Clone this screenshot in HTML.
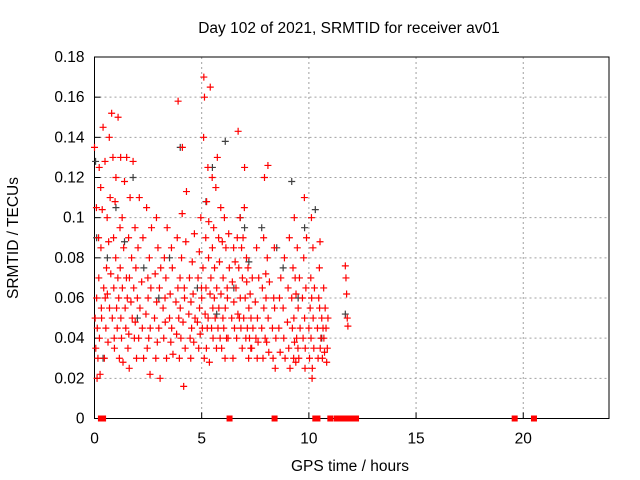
<!DOCTYPE html>
<html><head><meta charset="utf-8"><style>
body{margin:0;background:#fff;}
svg{display:block;font-family:"Liberation Sans",sans-serif;}
</style></head><body>
<svg id="chart" width="640" height="480" viewBox="0 0 640 480" xmlns="http://www.w3.org/2000/svg">
<g id="grid"></g>
<g id="axes"></g>
<g id="dark"></g>
<g id="red"></g>
<text x="349" y="33" font-size="15.5" text-anchor="middle">Day 102 of 2021, SRMTID for receiver av01</text>
<text x="350" y="471" font-size="15.5" text-anchor="middle">GPS time / hours</text>
<text transform="translate(18,238) rotate(-90)" font-size="15.5" text-anchor="middle">SRMTID / TECUs</text>
</svg>
<script>
const xTicks=[0,5,10,15,20];
const yTicks=[0,0.02,0.04,0.06,0.08,0.1,0.12,0.14,0.16,0.18];
const yTickLabels=["0","0.02","0.04","0.06","0.08","0.1","0.12","0.14","0.16","0.18"];
const redHours=[0.0,0.1,0.2,0.3,0.4,0.5,0.6,0.7,0.8,0.9,1.0,1.1,1.2,1.3,1.4,1.5,1.6,1.7,1.8,1.9,2.0,2.2,2.4,2.5,2.6,2.8,2.9,3.0,3.2,3.3,3.5,3.6,3.8,3.9,4.0,4.1,4.2,4.4,4.5,4.6,4.8,4.9,5.0,5.1,5.2,5.3,5.4,5.5,5.6,5.7,5.8,5.9,6.0,6.1,6.2,6.4,6.5,6.6,6.7,6.8,6.9,7.0,7.1,7.2,7.3,7.5,7.6,7.8,7.9,8.0,8.1,8.3,8.4,8.6,8.8,9.0,9.2,9.3,9.4,9.5,9.7,9.8,10.0,10.1,10.2,10.4,10.5,10.6,10.7,10.8,11.7];
const redValues=[[.135,.05,.035,.105,.02],[.06,.045,.03,.09,.125],[.07,.04,.022,.115,.055],[.085,.05,.104],[.145,.065,.03,.128],[.06,.045,.075,.1],[.062,.038,.088,.14],[.055,.11,.072],[.152,.05,.13,.09,.04],[.065,.035,.108,.08],[.12,.055,.045,.07],[.15,.06,.03,.095,.13],[.075,.05,.04,.1],[.065,.028,.085],[.118,.055,.045,.07],[.13,.06,.035,.09,.025],[.042,.07,.11],[.058,.08,.05],[.128,.065,.04,.095],[.048,.075,.03],[.06,.085,.04,.11,.055],[.068,.045,.09,.03],[.052,.105,.035,.07],[.06,.04,.08,.022],[.045,.065,.095],[.05,.072,.03,.1],[.058,.038,.085],[.045,.065,.02,.075],[.055,.04,.08,.06],[.048,.07,.03,.095],[.05,.062,.038,.085],[.045,.075,.032],[.058,.042,.09,.065],[.158,.05,.03,.07],[.055,.04,.08,.102],[.135,.048,.016,.065],[.06,.035,.088,.113],[.052,.07,.04,.03],[.058,.045,.078],[.062,.038,.092,.05],[.048,.07,.035,.083],[.055,.042,.1,.065],[.06,.045,.075,.14,.03],[.17,.16,.052,.09,.035],[.065,.108,.045,.125,.08],[.05,.098,.028,.062],[.165,.07,.045,.12,.055],[.085,.04,.095,.06],[.075,.05,.115,.035],[.065,.13,.045,.09],[.055,.078,.04,.105],[.062,.035,.088,.05],[.07,.045,.1,.03],[.055,.085,.04,.065],[.06,.04,.092,.075],[.05,.068,.03,.085],[.058,.045,.078],[.065,.04,.09,.052],[.143,.075,.05,.1],[.06,.045,.085,.035],[.07,.09,.05,.105],[.125,.06,.04,.08],[.068,.045,.075,.03],[.055,.04,.062,.035],[.05,.035,.07,.045],[.058,.04,.085,.03],[.05,.038,.07],[.045,.065,.03,.09],[.055,.12,.04,.072],[.06,.038,.08,.126],[.05,.033,.068],[.045,.03,.06,.085],[.055,.025,.04],[.045,.06,.033,.07],[.055,.04,.08,.03],[.048,.065,.035,.09,.025],[.06,.045,.075,.03,.1],[.05,.038,.07,.028],[.062,.04,.085,.035],[.055,.03,.07,.045],[.06,.04,.08,.11,.025],[.05,.035,.065,.09],[.045,.03,.055,.07,.1,.02],[.04,.06,.025,.085],[.05,.035,.065],[.045,.03,.06,.075,.088],[.055,.035,.04],[.05,.03,.045,.065],[.04,.033,.055],[.045,.028,.035,.05],[.076,.07,.062,.05,.046]];
const darkHours=[0.05,0.1,0.6,1.0,1.4,2.3,3.5,4.0,4.8,5.2,5.5,6.1,6.8,7.2,7.8,8.5,9.2,9.8,10.3,11.7,0.4,2.0,3.0,6.5,7.0,8.8,9.5,10.6,5.7,1.8];
const darkValues=[.128,.09,.08,.105,.088,.075,.08,.135,.065,.108,.125,.138,.1,.078,.095,.085,.118,.095,.104,.052,.03,.05,.06,.065,.095,.075,.06,.04,.052,.12];
const zeroHours=[0.3,0.4,6.3,8.4,10.3,10.4,11.0,11.3,11.4,11.5,11.6,11.7,11.8,11.9,12.0,12.2,19.6,20.5];

const NS="http://www.w3.org/2000/svg";
const L=94.5,R=609,T=57,B=418.5;
const xs=h=>L+h/24*(R-L);
const ys=v=>B-v/0.18*(B-T);
function mk(tag,attrs,parent){const e=document.createElementNS(NS,tag);for(const k in attrs)e.setAttribute(k,attrs[k]);parent.appendChild(e);return e;}
const grid=document.getElementById('grid'),axes=document.getElementById('axes');
xTicks.forEach((t,i)=>{
  const x=xs(t);
  if(t>0){const g=mk('line',{x1:x,x2:x,y1:T,y2:B,stroke:'#a0a0a0','stroke-dasharray':'2,3'},grid);
  
  }
  const tk=mk('line',{x1:x,x2:x,y1:B,y2:B-6,stroke:'#000'},axes);
  
  
  const lb=mk('text',{x:x,y:B+25,'font-size':15.5,'text-anchor':'middle'},axes);lb.textContent=t;
  
  
});
yTicks.forEach((t,i)=>{
  const y=ys(t);
  if(t>0&&i<yTicks.length-1){const g=mk('line',{x1:L,x2:R,y1:y,y2:y,stroke:'#a0a0a0','stroke-dasharray':'2,3'},grid);
  
  }
  const tk=mk('line',{x1:L,x2:L+6,y1:y,y2:y,stroke:'#000'},axes);
  
  
  const lb=mk('text',{x:L-10,y:y+5,'font-size':15.5,'text-anchor':'end'},axes);lb.textContent=yTickLabels[i];
  
  
});
const fr=mk('rect',{x:L,y:T,width:R-L,height:B-T,fill:'none',stroke:'#000','stroke-width':1},axes);


function plus(g,h,v,color){
  const x=xs(h),y=ys(v);
  const p=mk('path',{d:`M${x-3.5},${y}H${x+3.5}M${x},${y-3.5}V${y+3.5}`,stroke:color,'stroke-width':1.2,fill:'none'},g);
  
  
}
const dg=document.getElementById('dark'),rg=document.getElementById('red');
darkHours.forEach((h,i)=>plus(dg,h,darkValues[i],'#404040'));
redHours.forEach((h,i)=>redValues[i].forEach((v,j)=>plus(rg,h+j*0.03,v,'#ff0000')));
zeroHours.forEach(h=>{
  const r=mk('rect',{x:xs(h)-3,y:B-3,width:6,height:6,fill:'#ff0000'},rg);
  
  
});
</script>
</body></html>
